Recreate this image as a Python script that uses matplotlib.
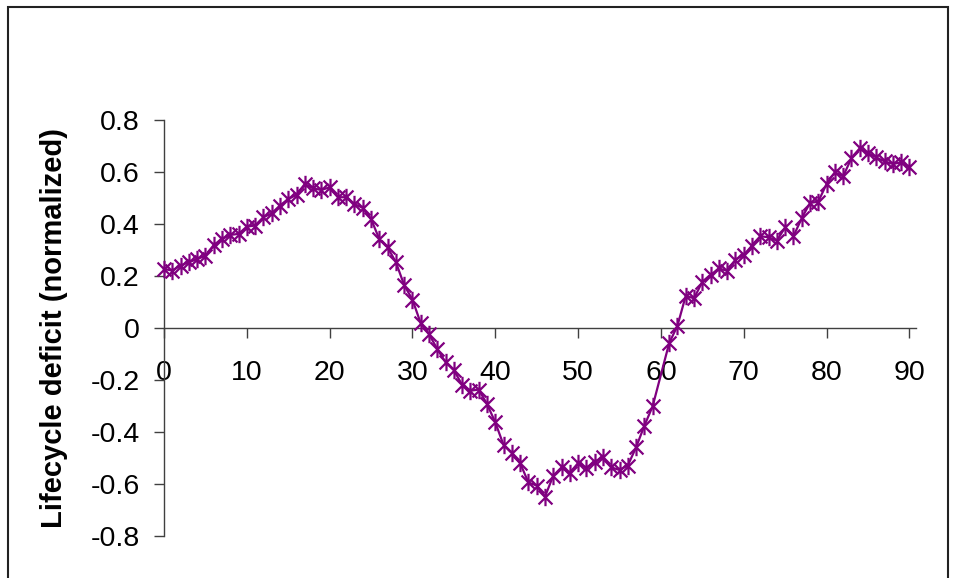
import matplotlib
matplotlib.use("Agg")
import matplotlib.pyplot as plt
from matplotlib.path import Path
from matplotlib.patches import Rectangle

plt.rcParams['font.family'] = ['Liberation Sans', 'DejaVu Sans']

ages = list(range(0, 60)) + list(range(61, 91))
deficit = [
    0.227, 0.221, 0.240, 0.253, 0.265, 0.278, 0.319, 0.342, 0.358, 0.362,
    0.390, 0.394, 0.426, 0.441, 0.471, 0.496, 0.512, 0.554, 0.537, 0.531,
    0.541, 0.503, 0.503, 0.477, 0.462, 0.419, 0.342, 0.310, 0.253, 0.165,
    0.109, 0.018, -0.024, -0.081, -0.132, -0.162, -0.219, -0.241, -0.237, -0.292,
    -0.363, -0.450, -0.481, -0.520, -0.594, -0.606, -0.649, -0.568, -0.536, -0.559,
    -0.519, -0.538, -0.514, -0.497, -0.536, -0.546, -0.529, -0.459, -0.376, -0.301,
    -0.058, 0.009, 0.124, 0.114, 0.178, 0.204, 0.229, 0.220, 0.263,
    0.281, 0.317, 0.353, 0.349, 0.336, 0.387, 0.353, 0.422, 0.481, 0.486,
    0.554, 0.599, 0.583, 0.653, 0.691, 0.673, 0.656, 0.641, 0.631, 0.637,
    0.618,
]
xticks = [0, 10, 20, 30, 40, 50, 60, 70, 80, 90]
yticks = [-0.8, -0.6, -0.4, -0.2, 0, 0.2, 0.4, 0.6, 0.8]
ylabel = "Lifecycle deficit (normalized)"

W, H = 956, 578
fig = plt.figure(figsize=(W / 100, H / 100), dpi=100)
ax = fig.add_axes([164 / W, (H - 536) / H, (916 - 164) / W, (536 - 120) / H])

star = Path([(-1, -1), (1, 1), (-1, 1), (1, -1), (0, -1.25), (0, 1.25)],
            [Path.MOVETO, Path.LINETO, Path.MOVETO, Path.LINETO, Path.MOVETO, Path.LINETO])

ax.plot(ages, deficit, color='#800080', lw=1.6, marker=star, markersize=12.5,
        markeredgewidth=1.6, markeredgecolor='#800080', markerfacecolor='none',
        clip_on=False, zorder=3)

ax.set_xlim(0, 90.8)
ax.set_ylim(-0.8, 0.8)
ax.set_xticks(xticks)
ax.set_xticklabels([str(t) for t in xticks])
ax.set_yticks(yticks)
ax.set_yticklabels(['0' if t == 0 else f"{t:.1f}" for t in yticks])

for s in ['top', 'right']:
    ax.spines[s].set_visible(False)
ax.spines['bottom'].set_position(('data', 0))
for s in ['left', 'bottom']:
    ax.spines[s].set_color('#404040')
    ax.spines[s].set_linewidth(1.0)

ax.tick_params(axis='y', direction='out', length=7.5, width=1.0, color='#404040',
               labelsize=20.5, pad=10, labelcolor='black')
ax.tick_params(axis='x', direction='out', length=7, width=1.0, color='#404040',
               labelsize=20.5, pad=16, labelcolor='black')

ax.set_ylabel(ylabel, fontsize=21, fontweight='bold')
ax.yaxis.set_label_coords(-0.128, 0.5)

ax.patch.set_alpha(0)
fig.patches.append(Rectangle((7.5, -10), 940.5, 571 + 10, transform=None, fill=False,
                             edgecolor='#222222', lw=1.5, clip_on=False))

fig.savefig('out.png', dpi=100)
